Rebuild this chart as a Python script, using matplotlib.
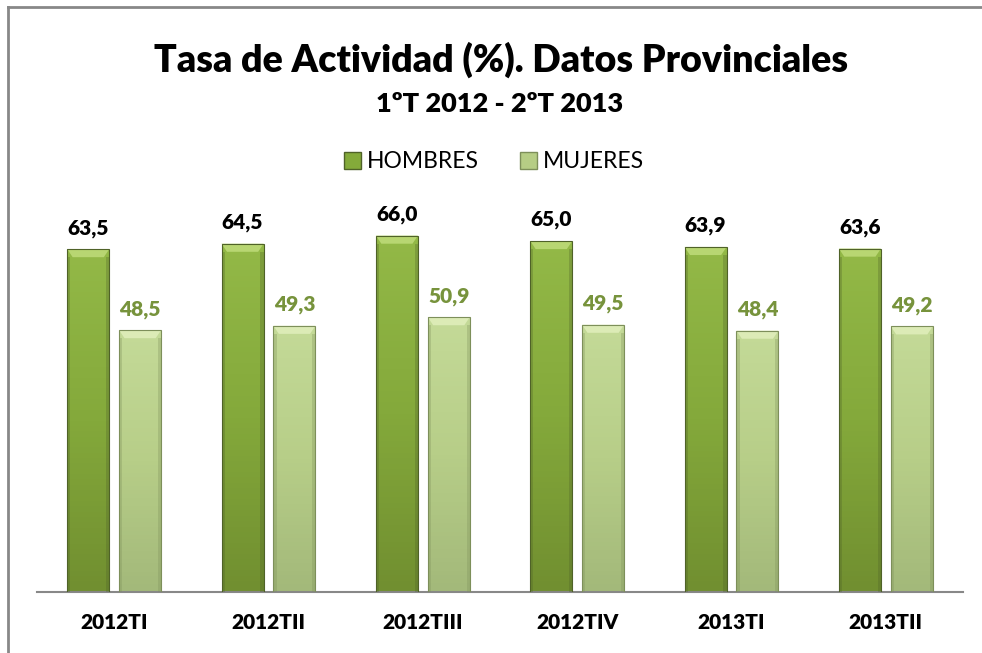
import matplotlib.pyplot as plt
import numpy as np
from matplotlib.colors import LinearSegmentedColormap
from matplotlib.lines import Line2D
from matplotlib.patches import Polygon, Rectangle

periods = ["2012TI", "2012TII", "2012TIII", "2012TIV", "2013TI", "2013TII"]
hombres = [63.5, 64.5, 66.0, 65.0, 63.9, 63.6]
mujeres = [48.5, 49.3, 50.9, 49.5, 48.4, 49.2]

plt.rcParams["font.family"] = ["Lato", "DejaVu Sans"]

H_FACE, H_TOP, H_EDGE = "#84aa3a", "#b8d672", "#4f6228"
M_FACE, M_TOP, M_EDGE = "#b6cd85", "#dcebb6", "#7d8f5a"
H_GRAD = LinearSegmentedColormap.from_list("h", ["#718f30", "#84a93b", "#93b947"])
M_GRAD = LinearSegmentedColormap.from_list("m", ["#a3b97a", "#b7ce88", "#c4da98"])
M_LABEL = "#77933c"

fig = plt.figure(figsize=(9.82, 6.53), dpi=100)
ax = fig.add_axes([37 / 982, 61 / 653, 926 / 982, 378 / 653])

x = np.arange(len(periods))
w = 0.272
off = 0.168


def shade(bars, cmap, top_col, side_col):
    # fake the Excel bevel: vertical gradient, light top trapezoid, dark sides
    grad = np.linspace(0, 1, 64).reshape(-1, 1)
    for b in bars:
        x0, w_, h = b.get_x(), b.get_width(), b.get_height()
        im = ax.imshow(grad, extent=[x0, x0 + w_, 0, h], origin="lower",
                       cmap=cmap, aspect="auto", zorder=2.2)
        im.set_clip_path(b)
        dx, dy = 0.035, 1.5
        ax.add_patch(Polygon([[x0, h], [x0 + w_, h], [x0 + w_ - dx, h - dy],
                              [x0 + dx, h - dy]], closed=True,
                             facecolor=top_col, edgecolor="none", zorder=3))
        for sx in (x0, x0 + w_ - dx * 0.6):
            ax.add_patch(Rectangle((sx, 0), dx * 0.6, h - dy,
                                   facecolor=side_col, alpha=0.3,
                                   edgecolor="none", zorder=3))
        ax.add_patch(Rectangle((x0, 0), w_, h, facecolor="none",
                               edgecolor=side_col, linewidth=0.8, zorder=3.5))


hb = ax.bar(x - off, hombres, w, color=H_FACE, linewidth=0, zorder=2)
mb = ax.bar(x + off, mujeres, w, color=M_FACE, linewidth=0, zorder=2)
shade(hb, H_GRAD, H_TOP, H_EDGE)
shade(mb, M_GRAD, M_TOP, M_EDGE)

for xi, v in zip(x - off, hombres):
    ax.text(xi, v + 3.9, f"{v:.1f}".replace(".", ","), ha="center",
            va="center", fontsize=15, fontweight="heavy", color="black")
for xi, v in zip(x + off, mujeres):
    ax.text(xi, v + 3.9, f"{v:.1f}".replace(".", ","), ha="center",
            va="center", fontsize=15, fontweight="heavy", color=M_LABEL)

ax.set_xlim(-0.5, len(periods) - 0.5)
ax.set_ylim(0, 70)
ax.set_xticks(x)
ax.set_xticklabels(periods, fontsize=15, fontweight="heavy")
ax.tick_params(axis="x", length=0, pad=15)
ax.set_yticks([])
for s in ["top", "right", "left"]:
    ax.spines[s].set_visible(False)
ax.spines["bottom"].set_color("#888888")
ax.spines["bottom"].set_linewidth(1.5)

fig.text(501 / 982, 1 - 60 / 653, "Tasa de Actividad (%). Datos Provinciales",
         ha="center", va="center", fontsize=27, fontweight="heavy")
fig.text(500 / 982, 1 - 104 / 653, "1ºT 2012 - 2ºT 2013", ha="center",
         va="center", fontsize=19.5, fontweight="heavy")

handles = [Rectangle((0, 0), 1, 1, facecolor=H_FACE, edgecolor=H_EDGE),
           Rectangle((0, 0), 1, 1, facecolor=M_FACE, edgecolor=M_EDGE)]
fig.legend(handles, ["HOMBRES", "MUJERES"], loc="center",
           bbox_to_anchor=(494 / 982, 1 - 162 / 653), ncol=2, frameon=False,
           fontsize=16.5, handlelength=0.75, handleheight=0.75,
           handletextpad=0.25, columnspacing=1.8)

# outer frame, cut off at right and bottom like the screenshot
fig.add_artist(Line2D([8 / 982, 8 / 982], [0, 1 - 7 / 653],
                      transform=fig.transFigure, color="#888888", lw=2))
fig.add_artist(Line2D([8 / 982, 1], [1 - 7 / 653, 1 - 7 / 653],
                      transform=fig.transFigure, color="#888888", lw=2))

fig.savefig("out.png", dpi=100, facecolor="white")
